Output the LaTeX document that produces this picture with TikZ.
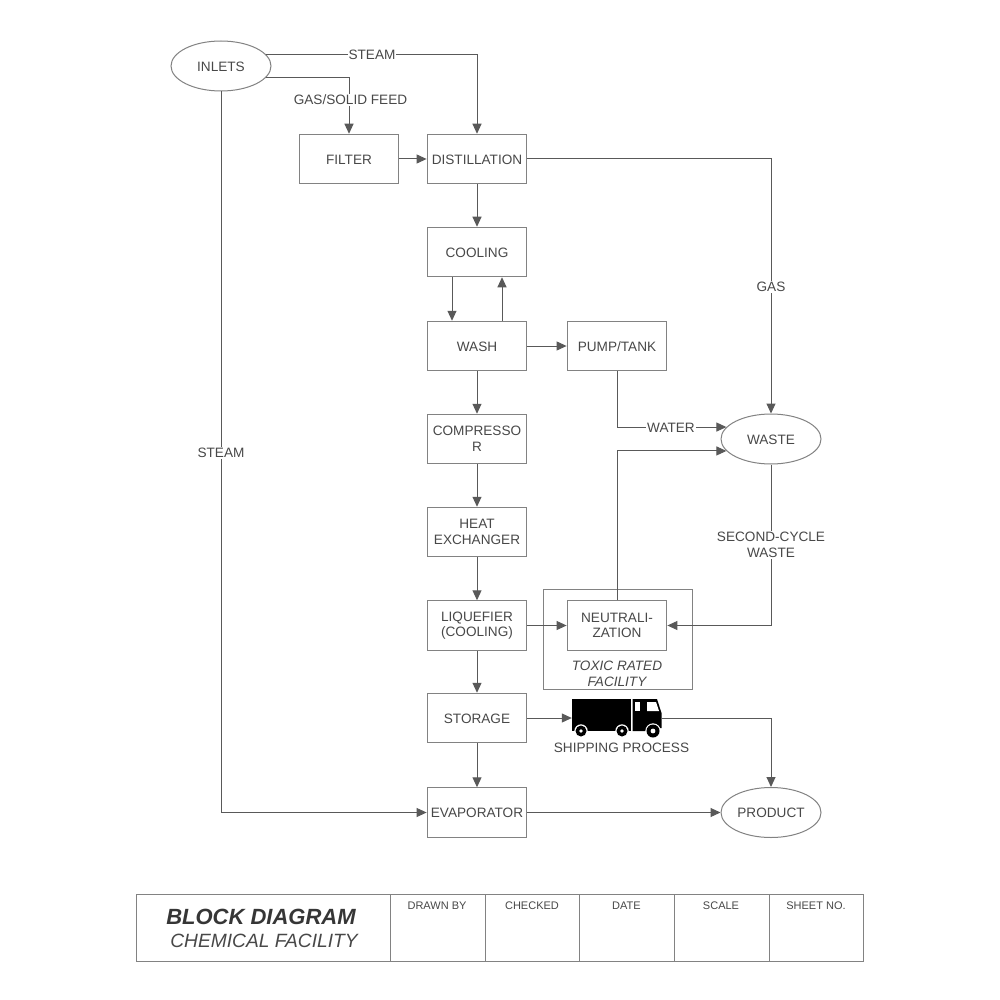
\documentclass[tikz,border=0pt]{standalone}
\usepackage{fontspec}
\setmainfont{Liberation Sans}
\usetikzlibrary{arrows.meta,shapes.geometric}
\definecolor{ln}{HTML}{595959}
\definecolor{bx}{HTML}{828282}
\definecolor{tx}{HTML}{484848}
\tikzset{
 x=1pt,y=-1pt,
 every node/.style={text=tx,font=\fontsize{13.6}{15.6}\selectfont,inner sep=0pt,align=center},
 blockbox/.style={draw=bx,line width=1pt,fill=white,minimum width=99.8pt,minimum height=49.5pt,execute at begin node={\rule{0pt}{11pt}}},
 twoline/.style={execute at begin node={\rule{0pt}{14pt}}},
 oval/.style={ellipse,draw=bx,line width=1pt,fill=white,minimum width=100pt,minimum height=50pt,execute at begin node={\rule{0pt}{11pt}}},
 conn/.style={draw=ln,line width=1pt,-{Triangle[length=10pt,width=9pt]}},
 lab/.style={fill=white,inner xsep=1pt,inner ysep=1pt},
 frame/.style={draw=bx,line width=1pt},
 hdr/.style={font=\fontsize{11}{13}\selectfont},
}
\begin{document}
\begin{tikzpicture}
\useasboundingbox (0,0) rectangle (1000,1000);
\fill[white] (0,0) rectangle (1000,1000);
% toxic frame
\node[frame,minimum width=149pt,minimum height=100pt] (toxic) at (617.5,639) {};
% nodes
\node[oval] (inlets) at (221,66) {INLETS};
\node[blockbox] (filter) at (349,159) {FILTER};
\node[blockbox] (dist) at (477,159) {DISTILLATION};
\node[blockbox] (cooling) at (477,252) {COOLING};
\node[blockbox] (wash) at (477,346) {WASH};
\node[blockbox] (pump) at (617,346) {PUMP/TANK};
\node[blockbox,twoline] (comp) at (477,439) {COMPRESSO\\R};
\node[blockbox,twoline] (heat) at (477,532) {HEAT\\EXCHANGER};
\node[blockbox,twoline] (liq) at (477,625.5) {LIQUEFIER\\(COOLING)};
\node[blockbox,twoline] (neut) at (617,625.5) {NEUTRALI-\\ZATION};
\node[blockbox] (stor) at (477,718) {STORAGE};
\node[blockbox] (evap) at (477,812.5) {EVAPORATOR};
\node[oval] (waste) at (771,439) {WASTE};
\node[oval] (prod) at (771,812.5) {PRODUCT};
\node[font=\fontsize{13.6}{16}\itshape\selectfont] (toxlab) at (617,674) {TOXIC RATED\\FACILITY};
\node (shiplab) at (621.5,748) {SHIPPING PROCESS};
% truck
\node[minimum width=90pt,minimum height=38pt] (truck) at (617,718) {};
\fill[black] (572,699) rectangle (631,731);
\fill[black] (632.5,699) -- (657,699) -- (661.5,713) -- (661.5,728) -- (650,728) -- (650,731) -- (632.5,731) -- cycle;
\fill[white] (635,702) rectangle (639.5,711);
\fill[white] (647,702) -- (656,702) -- (659,711) -- (647,711) -- cycle;
\foreach \wx/\wr/\wi in {581/5.5/1.8,622/5.5/1.8,653/6.5/2.4}{
 \fill[white] (\wx,731) circle[radius=\wr+1.2];
 \fill[black] (\wx,731) circle[radius=\wr];
 \fill[white] (\wx,731) circle[radius=\wi];
}
% connectors
\draw[conn] (inlets.15) -- (inlets.15 -| dist.north) -- (dist.north);
\node[lab] (steamA) at (372,55) {STEAM};
\draw[conn] (inlets.-14) -- (inlets.-14 -| filter.north) -- (filter.north);
\node[lab] (gasfeed) at (350.5,100) {GAS/SOLID FEED};
\draw[conn] (filter) -- (dist);
\draw[conn] (dist) -- (cooling);
\draw[conn] ([xshift=-25pt]cooling.south) -- ([xshift=-25pt]wash.north);
\draw[conn] ([xshift=25pt]wash.north) -- ([xshift=25pt]cooling.south);
\draw[conn] (wash) -- (pump);
\draw[conn] (wash) -- (comp);
\draw[conn] (comp) -- (heat);
\draw[conn] (heat) -- (liq);
\draw[conn] (liq) -- (neut);
\draw[conn] (liq) -- (stor);
\draw[conn] (stor) -- (evap);
\draw[conn] (stor) -- (truck);
\draw[conn] (truck.east) -- (truck.east -| prod.north) -- (prod.north);
\draw[conn] (evap) -- (prod);
\draw[conn] (inlets.south) -- (inlets.south |- evap.west) -- (evap.west);
\node[lab] (steamB) at (221,453) {STEAM};
\draw[conn] (dist.east) -- (dist.east -| waste.north) -- (waste.north);
\node[lab] (gaslab) at (771,287) {GAS};
\draw[conn] (pump.south) -- (pump.south |- waste.165) -- (waste.165);
\node[lab] (waterlab) at (671,428) {WATER};
\draw[conn] (neut.north) -- (neut.north |- waste.195) -- (waste.195);
\draw[conn] (waste.south) -- (waste.south |- neut.east) -- (neut.east);
\node[lab] (second) at (771,545) {SECOND-CYCLE\\WASTE};
% title block
\node[frame,minimum width=727pt,minimum height=67pt] (tblock) at (500,927.5) {};
\foreach \dx in {390,485,579,674,769}{\draw[frame] (\dx,894) -- (\dx,961);}
\node[font=\fontsize{22}{24}\bfseries\itshape\selectfont,text=tx!75!black] (t1) at (261,917) {BLOCK DIAGRAM};
\node[font=\fontsize{19.2}{22}\itshape\selectfont] (t2) at (264,941) {CHEMICAL FACILITY};
\node[hdr] (h1) at (437,906) {DRAWN BY};
\node[hdr] (h2) at (532,906) {CHECKED};
\node[hdr] (h3) at (626.5,906) {DATE};
\node[hdr] (h4) at (721,906) {SCALE};
\node[hdr] (h5) at (816,906) {SHEET NO.};
\end{tikzpicture}
\end{document}
